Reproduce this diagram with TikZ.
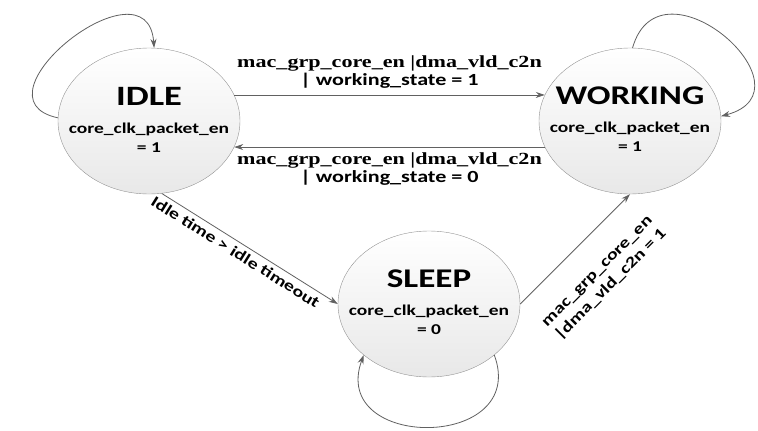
\documentclass[tikz,border=0pt]{standalone}
\usepackage{fontspec}
\setmainfont[FakeStretch=1.3]{Carlito}
\newfontfamily\edgeserif[FakeStretch=1.3]{Liberation Serif}
\usetikzlibrary{automata, positioning, arrows, arrows.meta, shapes.geometric}
\tikzset{
	->,  % every edge is directed
	>={Stealth[length=9pt,width=6pt]}, % filled arrow heads
	on grid, % distances are measured centre to centre
	every state/.style={shape=ellipse, draw=black!42, top color=white, bottom color=black!9,
		minimum width=182pt, minimum height=146pt, inner sep=0pt}, % the grey bubbles
	every edge/.style={draw=black!62, line width=0.8pt}, % connectors
	edgetext/.style={font=\fontsize{17}{18}\selectfont\bfseries, align=center}, % horizontal labels
	slanttext/.style={font=\fontsize{15.5}{19}\selectfont\bfseries, align=center, sloped}, % diagonal labels
}
% name on top, output below it
\newcommand{\statetext}[4]{\makebox[0pt]{\raisebox{-5pt}[0pt][0pt]{\fontsize{15}{19}\selectfont
	\begin{tabular}{@{}c@{}}\fontsize{#1}{#1}\selectfont\bfseries #2\\[9pt]
	\bfseries #3\\ \bfseries #4\end{tabular}}}}

\begin{document}
\begin{tikzpicture}[x=1pt,y=1pt]
		\useasboundingbox (0,0) rectangle (758,-431);
		\node[state] (idle) at (149,-121) {\statetext{28}{IDLE}{core\_clk\_packet\_en}{= 1}};
		\node[state, right=481pt of idle] (working) {\statetext{27}{WORKING}{core\_clk\_packet\_en}{= 1}};
		\node[state, below right=183pt and 280pt of idle] (sleep) {\statetext{27}{SLEEP}{core\_clk\_packet\_en}{= 0}};
		
		\path (idle.178) edge[out=168, in=94, looseness=2] (idle.86)
			  (idle.17) edge node[above=3pt, edgetext]{{\edgeserif mac\_grp\_core\_en |dma\_vld\_c2n}\\| working\_state = 1} (working.163)
			  (idle.-80) edge node[pos=0.45, below=1pt, slanttext]{Idle time > idle timeout} (sleep.west)
			  %
			  (working.88) edge[out=74, in=15, looseness=2.3] (working.3)
			  (working.-163) edge node[below=2pt, edgetext]{{\edgeserif mac\_grp\_core\_en |dma\_vld\_c2n}\\| working\_state = 0} (idle.-17)
			  %
			  (sleep.-38) edge[out=-70, in=-110, looseness=2] (sleep.-142)
			  (sleep.east) edge node[below=24pt, slanttext]{mac\_grp\_core\_en\\|dma\_vld\_c2n = 1} (working.south)
		;
	\end{tikzpicture}
\end{document}
